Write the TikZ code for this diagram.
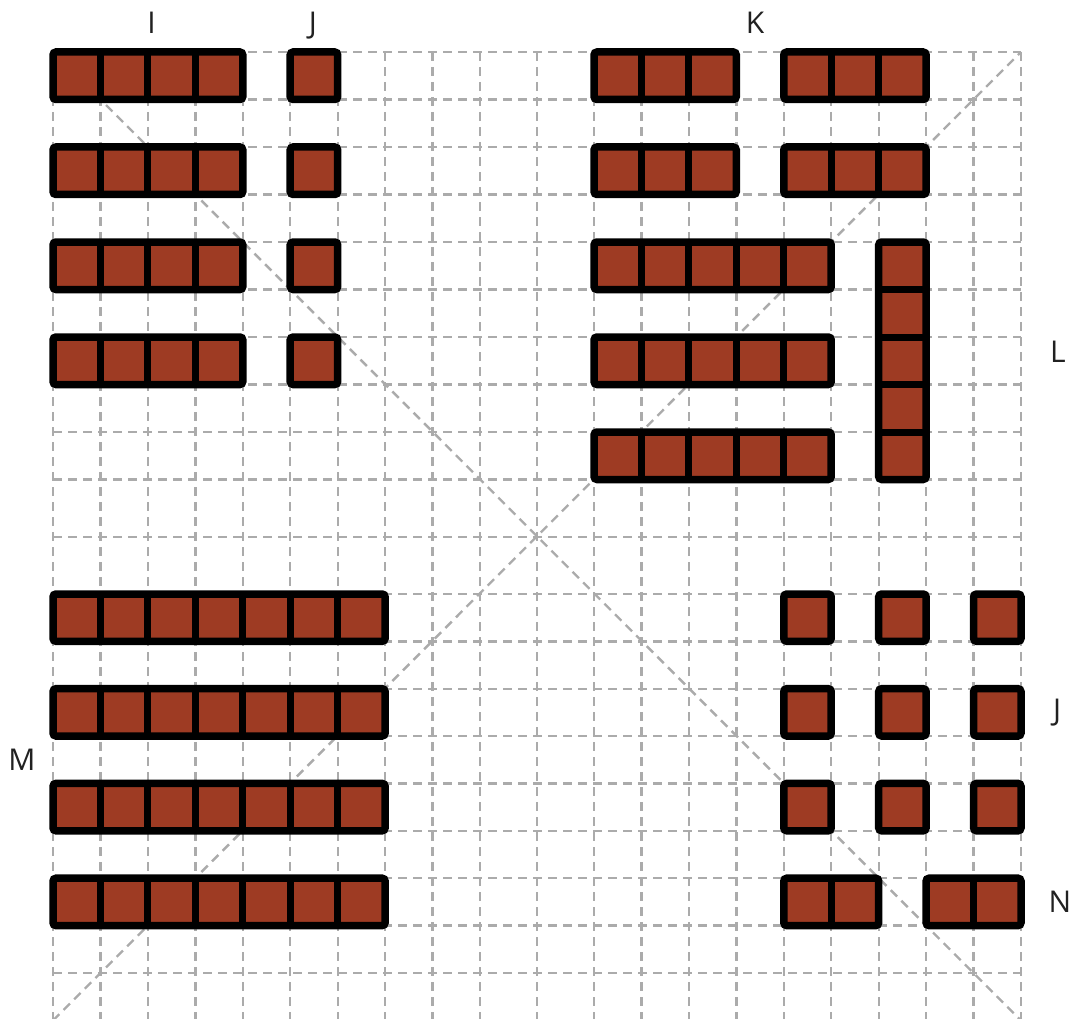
\documentclass[tikz,border=0pt]{standalone}
\usepackage{fontspec}
\setmainfont{Open Sans}
\begin{document}
\begin{tikzpicture}[x=1pt,y=-1pt,
  gridline/.style={draw=black!33, line width=2.4pt, dash pattern=on 9pt off 6pt},
  brickfill/.style={fill=brickred},
  brickedge/.style={draw=black, line width=7.5pt, rounded corners=3pt},
  divider/.style={draw=black, line width=7pt},
  lab/.style={anchor=base, text=black!87, font=\fontsize{30}{36}\selectfont, inner sep=0pt}]
\definecolor{brickred}{HTML}{9E3B23}
\useasboundingbox (0,0) rectangle (1073,1019);
\def\GX{{53,100.4,147.9,195.3,242.8,290.2,337.7,385.1,432.6,480,537,594,641.4,688.9,736.3,783.8,831.2,878.7,926.1,973.6,1021}}
\def\GY{{52,99.5,147,194.5,242,289.5,337,384.5,432,479.5,537,594,641.3,688.7,736,783.4,830.8,878.2,925.6,973,1020.5}}
% grid
\foreach \k in {0,...,20}{
  \pgfmathsetmacro\gxx{\GX[\k]}
  \pgfmathsetmacro\gyy{\GY[\k]}
  \draw[gridline] (53,\gyy) -- (1021,\gyy);
  \draw[gridline] (\gxx,52) -- (\gxx,1020.5);
}
\coordinate (tl) at (53,52);
\coordinate (tr) at (1021,52);
\coordinate (bl) at (53,1020.5);
\coordinate (br) at (1021,1020.5);
\draw[gridline] (tl) -- (br);
\draw[gridline] (bl) -- (tr);
% bricks
\newcommand\brickbox[4]{%
  \pgfmathsetmacro\bxa{\GX[#1]}\pgfmathsetmacro\bxb{\GX[#3]}%
  \pgfmathsetmacro\bya{\GY[#2]}\pgfmathsetmacro\byb{\GY[#4]}%
  \fill[brickfill] (\bxa,\bya) rectangle (\bxb,\byb);
  \pgfmathtruncatemacro\ilo{#1+1}\pgfmathtruncatemacro\ihi{#3-1}%
  \ifnum\ilo<#3\relax
    \foreach \k in {\ilo,...,\ihi}{\pgfmathsetmacro\dx{\GX[\k]}\draw[divider] (\dx,\bya) -- (\dx,\byb);}%
  \fi
  \pgfmathtruncatemacro\jlo{#2+1}\pgfmathtruncatemacro\jhi{#4-1}%
  \ifnum\jlo<#4\relax
    \foreach \k in {\jlo,...,\jhi}{\pgfmathsetmacro\dy{\GY[\k]}\draw[divider] (\bxa,\dy) -- (\bxb,\dy);}%
  \fi
  \draw[brickedge] (\bxa,\bya) rectangle (\bxb,\byb);
}
% I and J (top left)
\foreach \r in {0,2,4,6}{
  \pgfmathtruncatemacro\rr{\r+1}
  \brickbox{0}{\r}{4}{\rr}
  \brickbox{5}{\r}{6}{\rr}
}
% K
\foreach \r in {0,2}{
  \pgfmathtruncatemacro\rr{\r+1}
  \brickbox{11}{\r}{14}{\rr}
  \brickbox{15}{\r}{18}{\rr}
}
\foreach \r in {4,6,8}{
  \pgfmathtruncatemacro\rr{\r+1}
  \brickbox{11}{\r}{16}{\rr}
}
% L
\brickbox{17}{4}{18}{9}
% M
\foreach \r in {11,13,15,17}{
  \pgfmathtruncatemacro\rr{\r+1}
  \brickbox{0}{\r}{7}{\rr}
}
% J (bottom right)
\foreach \r in {11,13,15}{
  \pgfmathtruncatemacro\rr{\r+1}
  \brickbox{15}{\r}{16}{\rr}
  \brickbox{17}{\r}{18}{\rr}
  \brickbox{19}{\r}{20}{\rr}
}
% N
\brickbox{15}{17}{17}{18}
\brickbox{18}{17}{20}{18}
% labels
\node[lab] (labI) at (151.5,34) {I};
\node[lab] (labJa) at (313,34) {J};
\node[lab] (labK) at (755,34) {K};
\node[lab] (labL) at (1058,362) {L};
\node[lab] (labJb) at (1057,720) {J};
\node[lab] (labM) at (22,770) {M};
\node[lab] (labN) at (1060,912) {N};
\end{tikzpicture}
\end{document}
